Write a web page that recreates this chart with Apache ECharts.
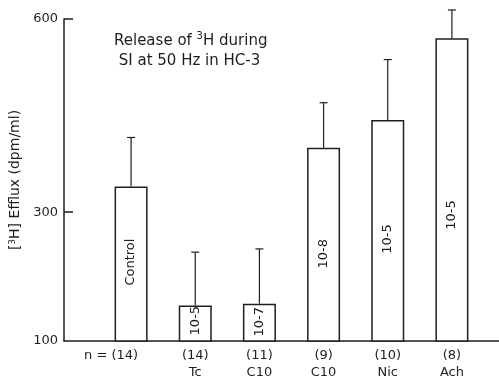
<!DOCTYPE html>
<html>
<head>
<meta charset="utf-8">
<script src="https://cdn.jsdelivr.net/npm/echarts@6/dist/echarts.min.js"></script>
<style>
html,body{margin:0;padding:0;background:#fff;}
#c{width:499px;height:381px;}
</style>
</head>
<body>
<div id="c"></div>
<script>
// ---- data ----
const nLabels = ['n = (14)', '(14)', '(11)', '(9)', '(10)', '(8)'];
const drugLabels = ['', 'Tc', 'C10', 'C10', 'Nic', 'Ach'];
const barTexts = ['Control', '10-5', '10-7', '10-8', '10-5', '10-5'];
const efflux = [340, 155, 158, 400, 443, 570];
const errors = [76, 83, 85, 70, 94, 44];
const yTicks = [100, 300, 600];
const yMin = 100, yMax = 600;

const FONT = '"DejaVu Sans", Verdana, sans-serif';
const INK = '#1e1e1e';

const categories = nLabels.map((n, i) => i);
// label shifts along the (rotated) text direction
const labelOffsets = [[2, 0], [3, 0], [1, 0], [-9, 0], [-8, 0], [-25, 0]];

const chart = echarts.init(document.getElementById('c'), null, {renderer: 'canvas'});
chart.setOption({
  backgroundColor: '#ffffff',
  animation: false,
  title: {
    text: 'Release of {sup|3}H during\n SI at 50 Hz in HC-3',
    left: 109, top: 26,
    textStyle: {
      fontFamily: FONT, fontSize: 15, fontWeight: 'normal', color: INK, lineHeight: 20,
      rich: { sup: { fontFamily: FONT, fontSize: 10, color: INK, verticalAlign: 'top', lineHeight: 20, padding: [0, 0, 6, 0] } }
    }
  },
  grid: [
    {left: 99, right: 15, top: 19, bottom: 40},
    {left: 64, right: 0, top: 19, bottom: 40}
  ],
  xAxis: [
    {
      type: 'category', gridIndex: 0, data: categories,
      axisLine: {show: false}, axisTick: {show: false},
      axisLabel: {
        margin: 6, interval: 0, color: INK, fontFamily: FONT, fontSize: 13, lineHeight: 17,
        formatter: (v, i) => i === 0 ? '{a|' + nLabels[i] + '}\n ' : nLabels[i] + '\n' + drugLabels[i],
        rich: { a: { fontFamily: FONT, fontSize: 13, lineHeight: 17, color: INK, padding: [0, 40, 0, 0] } }
      }
    },
    {
      type: 'value', gridIndex: 1, min: 0, max: 1,
      axisLine: {show: true, lineStyle: {color: INK, width: 1.5}},
      axisTick: {show: false}, axisLabel: {show: false}, splitLine: {show: false}
    }
  ],
  yAxis: [
    {
      type: 'value', gridIndex: 0, min: yMin, max: yMax,
      show: false
    },
    {
      type: 'value', gridIndex: 1, min: yMin, max: yMax,
      name: '[{sup|3}H] Efflux (dpm/ml)', nameLocation: 'middle', nameGap: 37,
      nameTextStyle: {
        fontFamily: FONT, fontSize: 14, color: INK,
        rich: { sup: { fontFamily: FONT, fontSize: 9, color: INK, verticalAlign: 'top' } }
      },
      axisLine: {show: true, lineStyle: {color: INK, width: 1.5}},
      axisTick: {show: true, inside: true, length: 9, lineStyle: {color: INK, width: 1.5}, customValues: [300, 600]},
      axisLabel: {color: INK, fontFamily: FONT, fontSize: 13, margin: 6, customValues: yTicks},
      splitLine: {show: false}
    }
  ],
  series: [
    {
      type: 'bar', xAxisIndex: 0, yAxisIndex: 0,
      barWidth: 33,
      data: efflux.map((v, i) => ({
        value: v,
        label: {offset: labelOffsets[i]}
      })),
      itemStyle: {color: '#ffffff', borderColor: INK, borderWidth: 1.5},
      label: {
        show: true, position: 'inside', rotate: 90, color: INK,
        fontFamily: FONT, fontSize: 13,
        formatter: p => barTexts[p.dataIndex]
      },
      z: 3
    },
    {
      type: 'custom', xAxisIndex: 0, yAxisIndex: 0, clip: false,
      data: efflux.map((v, i) => [i, v, v + errors[i]]),
      renderItem: (params, api) => {
        const base = api.coord([api.value(0), api.value(1)]);
        const top = api.coord([api.value(0), api.value(2)]);
        const x = base[0];
        return {
          type: 'group',
          children: [
            {type: 'line', shape: {x1: x, y1: base[1], x2: x, y2: top[1]}, style: {stroke: INK, lineWidth: 1.2}},
            {type: 'line', shape: {x1: x - 4, y1: top[1], x2: x + 4, y2: top[1]}, style: {stroke: INK, lineWidth: 1.2}}
          ]
        };
      },
      z: 2
    }
  ]
});
</script>
</body>
</html>
